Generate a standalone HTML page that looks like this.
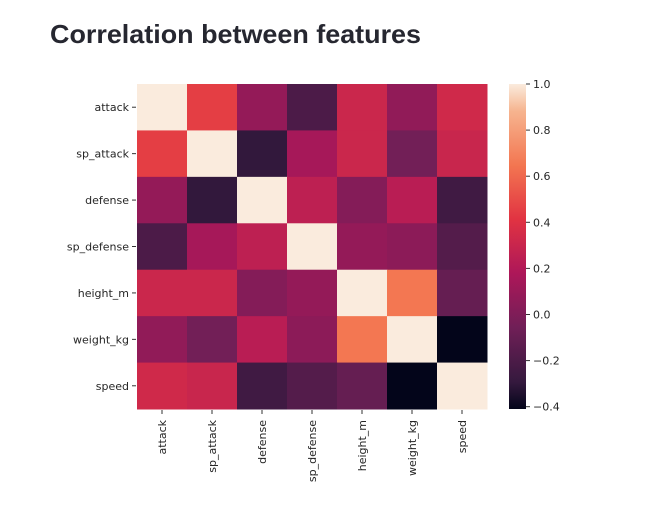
<!DOCTYPE html>
<html><head><meta charset="utf-8"><style>
body{margin:0;background:#fff;width:649px;height:529px;overflow:hidden}
svg{display:block}
</style></head><body>
<svg width="649" height="529">
<text x="50" y="43" font-family="Liberation Sans, sans-serif" font-weight="bold" font-size="26" fill="#262730" textLength="371" lengthAdjust="spacingAndGlyphs">Correlation between features</text>
<g id="cells"></g>
<g id="ylab"></g>
<g id="xlab"></g>
<defs><linearGradient id="cg" x1="0" y1="1" x2="0" y2="0"></linearGradient></defs>
<rect x="509" y="84" width="17" height="325" fill="url(#cg)"/>
<g id="cbt"></g>
</svg>
<script>
const features = ["attack","sp_attack","defense","sp_defense","height_m","weight_kg","speed"];
const row0 = [1, 0.45, 0.08, -0.2, 0.31, 0.07, 0.33];
const row1 = [0.45, 1, -0.3, 0.15, 0.31, -0.05, 0.3];
const row2 = [0.08, -0.3, 1, 0.25, 0.02, 0.23, -0.25];
const row3 = [-0.2, 0.15, 0.25, 1, 0.08, 0.05, -0.17];
const row4 = [0.31, 0.31, 0.02, 0.08, 1, 0.65, -0.1];
const row5 = [0.07, -0.05, 0.23, 0.05, 0.65, 1, -0.41];
const row6 = [0.33, 0.3, -0.25, -0.17, -0.1, -0.41, 1];
const matrix = [row0,row1,row2,row3,row4,row5,row6];
const cbTicks = [1.0, 0.8, 0.6, 0.4, 0.2, 0.0, -0.2, -0.4];
const vmin = -0.41, vmax = 1.0;

const NS="http://www.w3.org/2000/svg";
const X0=137,X1=487,Y0=84,Y1=409;
const n=features.length, cw=(X1-X0)/n, ch=(Y1-Y0)/n;
const stops=[[0,"#03051a"],[1/12,"#35193e"],[3/12,"#701f57"],[5/12,"#ad1759"],[7/12,"#e13342"],[9/12,"#f37651"],[11/12,"#f6b48f"],[1,"#faebdd"]];
function hex(h){return [1,3,5].map(i=>parseInt(h.substr(i,2),16));}
function cmap(v){let t=Math.max(0,Math.min(1,(v-vmin)/(vmax-vmin)));
 for(let i=1;i<stops.length;i++){if(t<=stops[i][0]){const a=stops[i-1],b=stops[i];const f=(t-a[0])/(b[0]-a[0]);const ca=hex(a[1]),cb=hex(b[1]);return "rgb("+ca.map((c,k)=>Math.round(c+(cb[k]-c)*f)).join(",")+")";}}
 return stops[stops.length-1][1];}
function cbY(v){return Y1-(v-vmin)/(vmax-vmin)*(Y1-Y0);}
const cells=document.getElementById("cells");
matrix.forEach((row,r)=>row.forEach((v,c)=>{
 const e=document.createElementNS(NS,"rect");
 e.setAttribute("x",X0+c*cw);e.setAttribute("y",Y0+r*ch);
 e.setAttribute("width",cw+0.5);e.setAttribute("height",ch+0.5);
 e.setAttribute("fill",cmap(v));
 
 
 cells.appendChild(e);}));
const yl=document.getElementById("ylab"),xl=document.getElementById("xlab");
features.forEach((f,i)=>{
 const yc=Y0+(i+0.5)*ch;
 const t=document.createElementNS(NS,"text");
 t.setAttribute("x",129);t.setAttribute("y",yc+4);t.setAttribute("text-anchor","end");
 t.setAttribute("font-family","DejaVu Sans, sans-serif");t.setAttribute("font-size","11");t.setAttribute("fill","#262626");
 t.textContent=f;
 
 
 yl.appendChild(t);
 const l=document.createElementNS(NS,"line");
 l.setAttribute("x1",132);l.setAttribute("x2",136);l.setAttribute("y1",yc);l.setAttribute("y2",yc);l.setAttribute("stroke","#333");
 
 
 yl.appendChild(l);
 const xc=X0+(i+0.5)*cw;
 const t2=document.createElementNS(NS,"text");
 t2.setAttribute("transform","translate("+(xc+4)+",420) rotate(-90)");t2.setAttribute("text-anchor","end");
 t2.setAttribute("font-family","DejaVu Sans, sans-serif");t2.setAttribute("font-size","11");t2.setAttribute("fill","#262626");
 t2.textContent=f;
 
 
 xl.appendChild(t2);
 const l2=document.createElementNS(NS,"line");
 l2.setAttribute("x1",xc);l2.setAttribute("x2",xc);l2.setAttribute("y1",410);l2.setAttribute("y2",414);l2.setAttribute("stroke","#333");
 
 
 xl.appendChild(l2);
});
const g=document.getElementById("cg");
stops.forEach(s=>{const st=document.createElementNS(NS,"stop");st.setAttribute("offset",s[0]);st.setAttribute("stop-color",s[1]);g.appendChild(st);});
const cbt=document.getElementById("cbt");
cbTicks.forEach(v=>{
 const y=cbY(v);
 const l=document.createElementNS(NS,"line");
 l.setAttribute("x1",526);l.setAttribute("x2",530);l.setAttribute("y1",y);l.setAttribute("y2",y);l.setAttribute("stroke","#333");
 
 
 cbt.appendChild(l);
 const t=document.createElementNS(NS,"text");
 t.setAttribute("x",533);t.setAttribute("y",y+4);
 t.setAttribute("font-family","DejaVu Sans, sans-serif");t.setAttribute("font-size","11");t.setAttribute("fill","#262626");
 t.textContent=(v<0?"\u2212":"")+Math.abs(v).toFixed(1);
 
 
 cbt.appendChild(t);
});
</script>
</body></html>
